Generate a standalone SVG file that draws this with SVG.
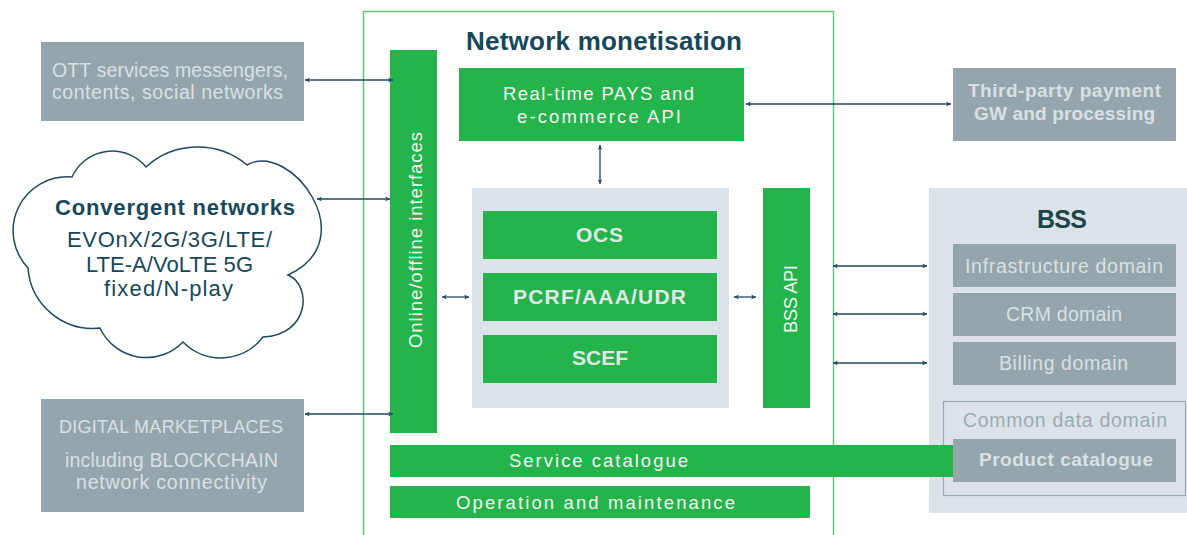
<svg xmlns="http://www.w3.org/2000/svg" width="1187" height="535" viewBox="0 0 1187 535">
<defs>
<style>
text{font-family:"Liberation Sans",Arial,sans-serif;}
.grey{fill:#94a6ac;}
.green{fill:#25b34b;}
.panel{fill:#dbe3e9;}
.lt{fill:#d8e0e4;font-size:19.5px;}
.wt{fill:#f2f6f4;font-size:18.5px;}
.wb{fill:#e1e8ea;font-size:21px;font-weight:bold;}
.lb{fill:#d8e0e4;font-size:19px;font-weight:bold;}
.dk{fill:#17485a;}
.con{stroke:#1c4d62;stroke-width:1.3;fill:none;marker-start:url(#ah);marker-end:url(#ah);}
</style>
<marker id="ah" viewBox="0 0 10 10" refX="9" refY="5" markerWidth="6" markerHeight="6" orient="auto-start-reverse" markerUnits="userSpaceOnUse">
<path d="M1,1 L9,5 L1,9 L3,5 Z" fill="#1c4d62"/>
</marker>
</defs>

<g id="monetisation-frame">
<rect x="363.5" y="11.5" width="470" height="540" fill="none" stroke="#6cc47c" stroke-width="1.5"/>
<text class="dk" x="466" y="50" font-size="26" font-weight="bold" textLength="276">Network monetisation</text>
</g>

<g id="ott">
<rect class="grey" x="41" y="42" width="263" height="79"/>
<text class="lt" x="52" y="77" textLength="236">OTT services messengers,</text>
<text class="lt" x="52" y="99" textLength="231">contents, social networks</text>
</g>

<g id="cloud">
<path d="M72,177 A44,44 0 0 1 146,167 A77,77 0 0 1 247,165 C290,140 365,240 288,275 C312,285 310,335 263,337 A53,53 0 0 1 183,342 A51,51 0 0 1 100,328 A65,65 0 0 1 28,268 A54,54 0 0 1 72,177 Z" fill="#ffffff" stroke="#1d4a5e" stroke-width="1.5"/>
<text class="dk" x="55" y="215" font-size="22" font-weight="bold" textLength="240">Convergent networks</text>
<text class="dk" x="67" y="247" font-size="22" textLength="205">EVOnX/2G/3G/LTE/</text>
<text class="dk" x="86" y="272" font-size="22" textLength="167">LTE-A/VoLTE 5G</text>
<text class="dk" x="104" y="296" font-size="22" textLength="129">fixed/N-play</text>
</g>

<g id="digital">
<rect class="grey" x="41" y="399" width="263" height="113"/>
<text class="lt" x="59" y="433" font-size="18" style="font-size:18px" textLength="224">DIGITAL MARKETPLACES</text>
<text class="lt" x="65" y="467" textLength="213">including BLOCKCHAIN</text>
<text class="lt" x="76" y="489" textLength="191">network connectivity</text>
</g>

<g id="interfaces">
<rect class="green" x="390" y="50" width="47" height="383"/>
<text class="wt" transform="translate(422,348) rotate(-90)" textLength="216">Online/offline interfaces</text>
</g>

<g id="pays">
<rect class="green" x="459" y="68" width="285" height="73"/>
<text class="wt" x="503" y="100" textLength="191">Real-time PAYS and</text>
<text class="wt" x="517" y="123" textLength="164">e-commerce API</text>
</g>

<g id="core">
<rect class="panel" x="472" y="188" width="257" height="220"/>
</g>
<g id="ocs">
<rect class="green" x="483" y="211" width="234" height="48"/>
<text class="wb" x="576" y="242" textLength="47">OCS</text>
</g>
<g id="pcrf">
<rect class="green" x="483" y="273" width="234" height="48"/>
<text class="wb" x="513" y="304" textLength="173">PCRF/AAA/UDR</text>
</g>
<g id="scef">
<rect class="green" x="483" y="335" width="234" height="48"/>
<text class="wb" x="572" y="365" textLength="56">SCEF</text>
</g>

<g id="bss-api">
<rect class="green" x="763" y="188" width="47" height="220"/>
<text class="wt" transform="translate(797,333) rotate(-90)" textLength="68">BSS API</text>
</g>

<g id="third-party">
<rect class="grey" x="953" y="68" width="223" height="73"/>
<text class="lb" x="968" y="97" textLength="193">Third-party payment</text>
<text class="lb" x="974" y="120" textLength="181">GW and processing</text>
</g>

<g id="bss">
<rect class="panel" x="929" y="188" width="258" height="325"/>
<text x="1037" y="228" font-size="25" font-weight="bold" fill="#1b4648" textLength="50">BSS</text>
</g>
<g id="infrastructure">
<rect class="grey" x="953" y="244" width="223" height="43"/>
<text class="lt" x="965" y="273" textLength="198">Infrastructure domain</text>
</g>
<g id="crm">
<rect class="grey" x="953" y="293" width="223" height="43"/>
<text class="lt" x="1006" y="321" textLength="116">CRM domain</text>
</g>
<g id="billing">
<rect class="grey" x="953" y="342" width="223" height="43"/>
<text class="lt" x="999" y="370" textLength="129">Billing domain</text>
</g>
<g id="common-data">
<rect x="943.5" y="401.5" width="242" height="94" fill="none" stroke="#9aabb0" stroke-width="1.2"/>
<text x="963" y="427" font-size="19.5" fill="#9aabb0" textLength="204">Common data domain</text>
</g>

<g id="service-catalogue">
<rect class="green" x="390" y="445" width="564" height="32"/>
<text class="wt" x="509" y="467" textLength="179">Service catalogue</text>
</g>
<g id="product-catalogue">
<rect class="grey" x="953" y="439" width="223" height="43"/>
<text class="lb" x="979" y="466" textLength="174">Product catalogue</text>
</g>

<g id="operation">
<rect class="green" x="390" y="486" width="420" height="32"/>
<text class="wt" x="456" y="509" textLength="279">Operation and maintenance</text>
</g>

<g id="connectors">
<line class="con" x1="305" y1="80" x2="393" y2="80"/>
<line class="con" x1="317" y1="199" x2="390" y2="199"/>
<line class="con" x1="305" y1="414" x2="393" y2="414"/>
<line class="con" x1="442" y1="297" x2="469" y2="297"/>
<line class="con" x1="734" y1="297" x2="756" y2="297"/>
<line class="con" x1="600" y1="145" x2="600" y2="184"/>
<line class="con" x1="746" y1="104" x2="951" y2="104"/>
<line class="con" x1="833" y1="266" x2="927" y2="266"/>
<line class="con" x1="833" y1="314" x2="927" y2="314"/>
<line class="con" x1="833" y1="363" x2="927" y2="363"/>
</g>
</svg>
